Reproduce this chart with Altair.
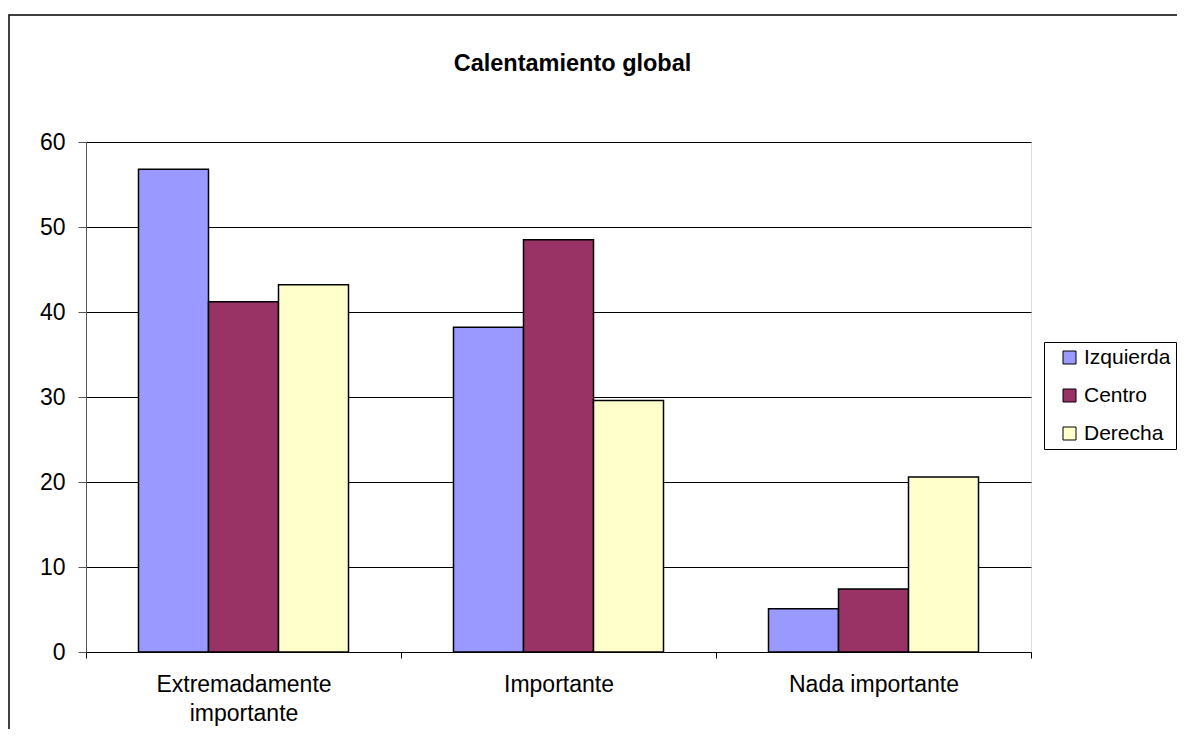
import altair as alt
import pandas as pd

title_text = "Calentamiento global"
categories = ["Extremadamente importante", "Importante", "Nada importante"]
series = ["Izquierda", "Centro", "Derecha"]
izquierda = [56.8, 38.2, 5.1]
centro = [41.2, 48.5, 7.4]
derecha = [43.2, 29.6, 20.6]
colors = ["#9999FF", "#993366", "#FFFFCC"]
y_ticks = [0, 10, 20, 30, 40, 50, 60]

rows = []
for s, vals in zip(series, [izquierda, centro, derecha]):
    for c, v in zip(categories, vals):
        rows.append({"categoria": c, "serie": s, "valor": v})
df = pd.DataFrame(rows)

FONT = "Liberation Sans, Arial, sans-serif"

bars = alt.Chart(df).mark_bar(stroke="black", strokeWidth=1.5).encode(
    x=alt.X(
        "categoria:N",
        sort=categories,
        scale=alt.Scale(paddingInner=0, paddingOuter=0),
        axis=alt.Axis(
            title=None,
            labelAngle=0,
            labelFontSize=23,
            labelFont=FONT,
            labelColor="black",
            labelPadding=15,
            labelLineHeight=29,
            labelExpr="datum.label == 'Extremadamente importante' ? ['Extremadamente', 'importante'] : datum.label",
            tickBand="extent",
            tickSize=6,
            tickColor="black",
            domainColor="black",
            grid=False,
        ),
    ),
    xOffset=alt.XOffset(
        "serie:N",
        sort=series,
        scale=alt.Scale(paddingOuter=0.75, paddingInner=0),
    ),
    y=alt.Y(
        "valor:Q",
        scale=alt.Scale(domain=[0, 60], nice=False),
        axis=alt.Axis(
            title=None,
            values=y_ticks,
            labelFontSize=23,
            labelFont=FONT,
            labelColor="black",
            labelPadding=13,
            tickSize=8,
            tickColor="#555555",
            domainColor="#555555",
            grid=True,
            gridColor="black",
            gridWidth=1,
        ),
    ),
    color=alt.Color(
        "serie:N",
        sort=series,
        scale=alt.Scale(domain=series, range=colors),
        legend=alt.Legend(
            title=None,
            orient="none",
            legendX=958,
            legendY=200,
            strokeColor="black",
            fillColor="white",
            padding=5,
            symbolType="square",
            symbolSize=169,
            symbolStrokeColor="black",
            symbolStrokeWidth=1,
            symbolOffset=10,
            labelOffset=4,
            labelFontSize=21,
            labelFont=FONT,
            labelColor="black",
            rowPadding=16,
        ),
    ),
)

border = alt.Chart(pd.DataFrame({"a": [0]})).mark_rect(
    fill=None, stroke="black", strokeWidth=1.5
).encode(
    x=alt.value(-77),
    x2=alt.value(1300),
    y=alt.value(-127),
    y2=alt.value(800),
)

title = alt.Chart(pd.DataFrame({"t": [title_text]})).mark_text(
    font=FONT, fontSize=23.5, fontWeight="bold", color="black",
    align="center", baseline="alphabetic",
).encode(
    text="t:N",
    x=alt.value(486.5),
    y=alt.value(-71),
)

chart = alt.layer(border, bars, title).properties(
    width=945,
    height=510,
    autosize=alt.AutoSizeParams(type="none"),
    padding={"left": 78, "top": 134, "right": 146, "bottom": 77},
).configure_view(
    fill="#C0C0C0", stroke="#808080", strokeWidth=2
).configure(background="white")

chart.save("out.html", embed_options={"renderer": "svg", "actions": False})
